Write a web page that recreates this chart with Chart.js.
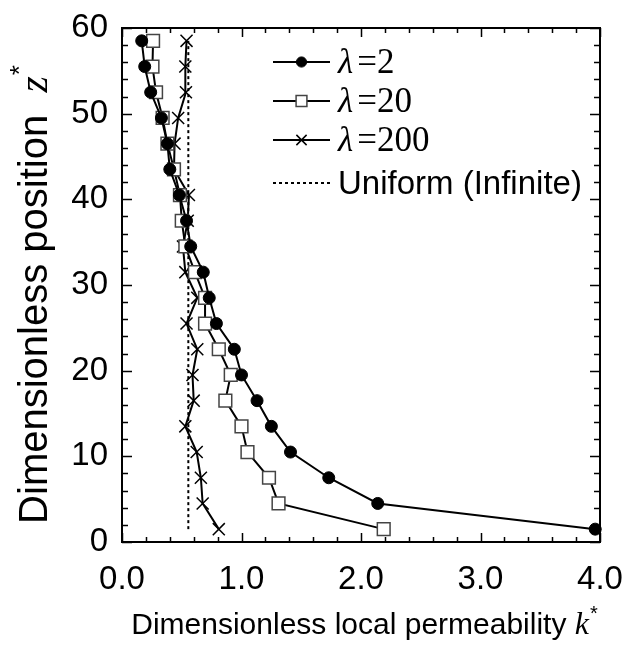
<!DOCTYPE html>
<html><head><meta charset="utf-8">
<script src="https://cdn.jsdelivr.net/npm/chart.js@4/dist/chart.umd.min.js"></script>
<style>html,body{margin:0;padding:0;background:#fff;}</style>
</head><body>
<canvas id="c" width="629" height="646"></canvas>
<script>
// ---- data ----
const zPositions = [1.5, 4.5, 7.5, 10.5, 13.5, 16.5, 19.5, 22.5, 25.5, 28.5, 31.5, 34.5, 37.5, 40.5, 43.5, 46.5, 49.5, 52.5, 55.5, 58.5];
const kLambda2   = [3.96, 2.14, 1.73, 1.41, 1.25, 1.13, 1.00, 0.94, 0.79, 0.73, 0.68, 0.575, 0.54, 0.48, 0.40, 0.38, 0.33, 0.24, 0.19, 0.165];
const kLambda20  = [2.19, 1.31, 1.23, 1.05, 1.00, 0.865, 0.91, 0.81, 0.695, 0.695, 0.61, 0.53, 0.50, 0.485, 0.435, 0.38, 0.34, 0.285, 0.255, 0.26];
const kLambda200 = [0.81, 0.675, 0.66, 0.625, 0.53, 0.60, 0.59, 0.63, 0.54, 0.63, 0.53, 0.51, 0.55, 0.56, 0.435, 0.44, 0.47, 0.535, 0.53, 0.54];
const kUniform   = [0.555, 0.555];
const zUniform   = [1.5, 58.5];
const xTickLabels = ['0.0', '1.0', '2.0', '3.0', '4.0'];
const yTickLabels = ['0', '10', '20', '30', '40', '50', '60'];
const seriesNames = ['=2', '=20', '=200', 'Uniform (Infinite)'];

const pts = (xs, ys) => xs.map((x, i) => ({x: x, y: ys[i]}));
const SANS = '"Liberation Sans", Arial, sans-serif';
const SERIF = '"Liberation Serif", "Times New Roman", serif';

const decor = {
  id: 'decor',
  afterDraw(chart) {
    const ctx = chart.ctx, a = chart.chartArea;
    const xs = chart.scales.x, ys = chart.scales.y;
    ctx.save();
    ctx.strokeStyle = '#000';
    ctx.lineWidth = 2;
    ctx.strokeRect(a.left, a.top, a.right - a.left, a.bottom - a.top);
    // x ticks (inward, both sides)
    ctx.lineWidth = 1.5;
    for (let i = 0; i <= 20; i++) {
      const v = i * 0.2;
      const px = Math.round(xs.getPixelForValue(v)) + 0.5;
      const len = (i % 5 === 0) ? 9 : 5;
      ctx.beginPath();
      ctx.moveTo(px, a.bottom); ctx.lineTo(px, a.bottom - len);
      ctx.moveTo(px, a.top); ctx.lineTo(px, a.top + len);
      ctx.stroke();
    }
    for (let i = 0; i <= 30; i++) {
      const v = i * 2;
      const py = Math.round(ys.getPixelForValue(v)) + 0.5;
      const len = (i % 5 === 0) ? 10 : 6;
      ctx.beginPath();
      ctx.moveTo(a.left, py); ctx.lineTo(a.left + len, py);
      ctx.moveTo(a.right, py); ctx.lineTo(a.right - len, py);
      ctx.stroke();
    }
    // legend
    const rows = [62, 101, 140, 183];
    const lx0 = 273, lx1 = 330, tx = 338;
    chart.data.datasets.forEach((ds, i) => {
      const y = rows[i];
      ctx.save();
      ctx.strokeStyle = '#000';
      ctx.lineWidth = ds.borderWidth;
      ctx.setLineDash(ds.borderDash || []);
      ctx.beginPath(); ctx.moveTo(lx0, y); ctx.lineTo(lx1, y); ctx.stroke();
      ctx.restore();
      if (ds.pointStyle && ds.pointRadius > 0) {
        ctx.fillStyle = ds.pointBackgroundColor; ctx.strokeStyle = ds.pointBorderColor;
        ctx.lineWidth = ds.pointBorderWidth;
        ctx.beginPath();
        const r = ds.pointRadius * 0.85;
        const cx = (lx0 + lx1) / 2;
        if (ds.pointStyle === 'circle') { ctx.arc(cx, y, r, 0, Math.PI*2); ctx.fill(); ctx.stroke(); }
        else if (ds.pointStyle === 'rect') { const s = r * Math.SQRT1_2; ctx.rect(cx - s, y - s, 2*s, 2*s); ctx.fill(); ctx.stroke(); }
        else { const s = r * Math.SQRT1_2; ctx.moveTo(cx-s,y-s); ctx.lineTo(cx+s,y+s); ctx.moveTo(cx-s,y+s); ctx.lineTo(cx+s,y-s); ctx.stroke(); }
      }
      ctx.fillStyle = '#000';
      ctx.textBaseline = 'middle';
      ctx.textAlign = 'left';
      if (i < 3) {
        ctx.font = 'italic 35px ' + SERIF;
        ctx.fillText('\u03bb', tx, y + 2);
        const w = ctx.measureText('\u03bb').width;
        ctx.font = '35px ' + SERIF;
        ctx.fillText(seriesNames[i], tx + w + 4, y + 2);
      } else {
        ctx.font = '33px ' + SANS;
        ctx.fillText(seriesNames[i], tx, y + 2);
      }
    });
    // x title
    ctx.textBaseline = 'alphabetic';
    ctx.textAlign = 'left';
    const xt = 'Dimensionless local permeability ';
    ctx.font = '30px ' + SANS; const w1 = ctx.measureText(xt).width;
    ctx.font = 'italic 32px ' + SERIF; const w2 = ctx.measureText('k').width;
    ctx.font = '20px ' + SANS; const w3 = ctx.measureText('*').width;
    let x0 = 364 - (w1 + w2 + w3) / 2;
    const by = 634;
    ctx.font = '30px ' + SANS; ctx.fillText(xt, x0, by);
    ctx.font = 'italic 32px ' + SERIF; ctx.fillText('k', x0 + w1, by);
    ctx.font = '20px ' + SANS; ctx.fillText('*', x0 + w1 + w2 + 1, by - 14);
    // y title
    ctx.save();
    ctx.translate(47, 295);
    ctx.rotate(-Math.PI / 2);
    const yt = 'Dimensionless position  ';
    ctx.font = '40px ' + SANS; const v1 = ctx.measureText(yt).width;
    ctx.font = 'italic 42px ' + SERIF; const v2 = ctx.measureText('z').width;
    ctx.font = '26px ' + SANS; const v3 = ctx.measureText('*').width;
    let y0 = -(v1 + v2 + v3) / 2;
    ctx.font = '40px ' + SANS; ctx.fillText(yt, y0, 0);
    ctx.font = 'italic 42px ' + SERIF; ctx.fillText('z', y0 + v1, 0);
    ctx.font = '26px ' + SANS; ctx.fillText('*', y0 + v1 + v2 + 1, -19);
    ctx.restore();
    ctx.restore();
  }
};

const common = { showLine: true, borderColor: '#000', borderWidth: 2, clip: false, pointHoverRadius: 0 };

new Chart(document.getElementById('c'), {
  type: 'scatter',
  data: {
    datasets: [
      Object.assign({}, common, { label: 'λ=2', data: pts(kLambda2, zPositions), pointStyle: 'circle', pointRadius: 6,
        pointBackgroundColor: '#000', pointBorderColor: '#000', pointBorderWidth: 1 }),
      Object.assign({}, common, { label: 'λ=20', data: pts(kLambda20, zPositions), pointStyle: 'rect', pointRadius: 9,
        pointBackgroundColor: '#fff', pointBorderColor: '#444', pointBorderWidth: 1.5 }),
      Object.assign({}, common, { label: 'λ=200', data: pts(kLambda200, zPositions), pointStyle: 'crossRot', pointRadius: 8.5,
        pointBackgroundColor: '#000', pointBorderColor: '#000', pointBorderWidth: 1.5 }),
      Object.assign({}, common, { label: 'Uniform (Infinite)', data: pts(kUniform, zUniform), pointRadius: 0, pointStyle: false,
        borderWidth: 2, borderDash: [3, 3] })
    ]
  },
  options: {
    responsive: false,
    animation: false,
    events: [],
    layout: { padding: { top: 28, right: 29, left: 0, bottom: 0 } },
    plugins: { legend: { display: false }, tooltip: { enabled: false } },
    scales: {
      x: {
        type: 'linear', min: 0, max: 4,
        grid: { display: false, drawTicks: false }, border: { display: false },
        ticks: { stepSize: 1, color: '#000', font: { family: SANS, size: 33 }, padding: 18, maxRotation: 0, autoSkip: false,
          callback: (v, i) => xTickLabels[i] },
        afterFit: s => { s.height = 104; s.paddingLeft = 0; s.paddingRight = 0; }
      },
      y: {
        type: 'linear', min: 0, max: 60,
        grid: { display: false, drawTicks: false }, border: { display: false },
        ticks: { stepSize: 10, color: '#000', font: { family: SANS, size: 33 }, padding: 14, autoSkip: false,
          callback: (v, i) => yTickLabels[i] },
        afterFit: s => { s.width = 122; s.paddingTop = 0; s.paddingBottom = 0; }
      }
    }
  },
  plugins: [decor]
});
</script>
</body></html>
